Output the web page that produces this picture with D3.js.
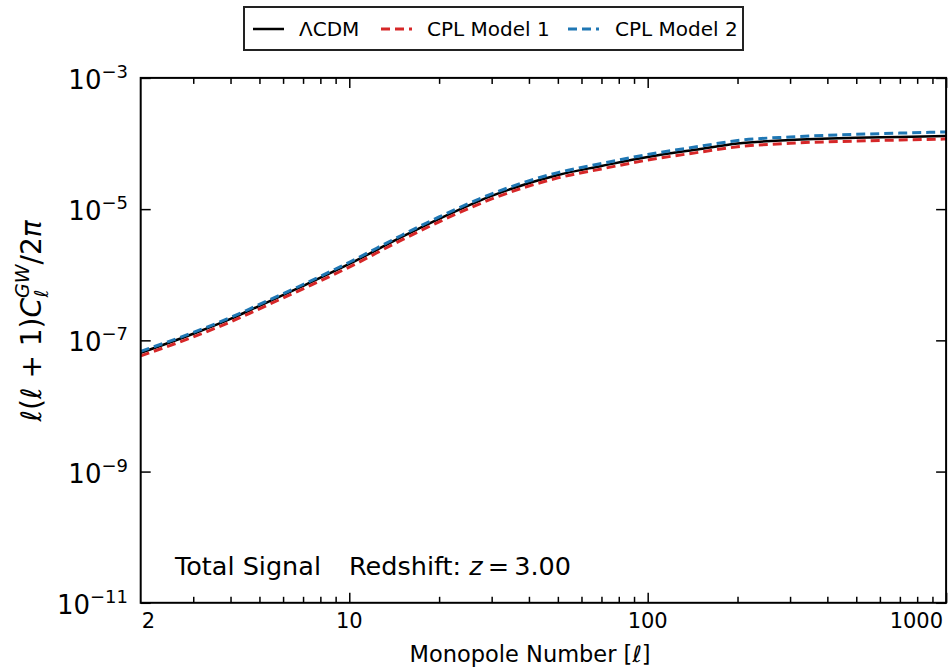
<!DOCTYPE html>
<html>
<head>
<meta charset="utf-8">
<script src="https://cdn.jsdelivr.net/npm/d3@7"></script>
<style>
  body { margin: 0; background: #fff; }
  text { font-family: "DejaVu Sans", sans-serif; fill: #000; }
</style>
</head>
<body>
<script>
// multipole numbers and the three spectra
var ells = [2, 3, 4, 5, 7, 10, 15, 20, 30, 50, 70, 100, 150, 200, 300, 500, 700, 1000];
var lcdm = [6.45e-8, 1.26e-7, 2.12e-7, 3.36e-7, 6.76e-7, 1.46e-6, 3.77e-6, 7.10e-6, 1.59e-5,
            3.32e-5, 4.55e-5, 6.24e-5, 8.26e-5, 1.00e-4, 1.13e-4, 1.22e-4, 1.26e-4, 1.30e-4];
var cpl1 = [5.8e-8, 1.13e-7, 1.91e-7, 3.03e-7, 6.1e-7, 1.31e-6, 3.4e-6, 6.4e-6, 1.43e-5,
            2.99e-5, 4.1e-5, 5.6e-5, 7.4e-5, 8.9e-5, 1.01e-4, 1.09e-4, 1.13e-4, 1.17e-4];
var cpl2 = [6.8e-8, 1.32e-7, 2.23e-7, 3.53e-7, 7.1e-7, 1.55e-6, 4.0e-6, 7.6e-6, 1.71e-5,
            3.6e-5, 4.95e-5, 6.8e-5, 9.1e-5, 1.11e-4, 1.26e-4, 1.38e-4, 1.44e-4, 1.50e-4];

var xMajor = [2, 10, 100, 1000];
var xMinor = [3, 4, 5, 6, 7, 8, 9, 20, 30, 40, 50, 60, 70, 80, 90,
              200, 300, 400, 500, 600, 700, 800, 900];
var yExps = [-3, -5, -7, -9, -11];

var width = 949, height = 668;
var pL = 140.7, pR = 946.1, pT = 77.9, pB = 602.8;

var svg = d3.select("body").append("svg")
    .attr("width", width)
    .attr("height", height);

var x = d3.scaleLog().domain([2, 1000]).range([pL, pR]);
var y = d3.scaleLog().domain([1e-11, 1e-3]).range([pB, pT]);

svg.append("clipPath").attr("id", "clip")
  .append("rect")
    .attr("x", pL).attr("y", pT)
    .attr("width", pR - pL).attr("height", pB - pT);

// curves
var series = [
  {vals: lcdm, color: "#000", dash: null, w: 2.5},
  {vals: cpl1, color: "#d62728", dash: "9,5", w: 3},
  {vals: cpl2, color: "#1f77b4", dash: "9,5", w: 3}
];

var line = d3.line()
    .x(function(d) { return x(d[0]); })
    .y(function(d) { return y(d[1]); })
    .curve(d3.curveMonotoneX);

svg.append("g").attr("clip-path", "url(#clip)")
  .selectAll("path")
  .data(series)
  .enter().append("path")
    .attr("fill", "none")
    .attr("stroke", function(d) { return d.color; })
    .attr("stroke-width", function(d) { return d.w; })
    .attr("stroke-dasharray", function(d) { return d.dash; })
    .attr("d", function(d) {
      return line(ells.map(function(l, i) { return [l, d.vals[i]]; }));
    });

// ticks, pointing inward on all four sides
function ticks(g, axis) {
  g.call(axis);
  g.select(".domain").remove();
  g.selectAll("text").remove();
  g.selectAll("line").attr("stroke", "#000").attr("stroke-width", 1.5);
}

svg.append("g").attr("transform", "translate(0," + pB + ")")
  .call(ticks, d3.axisBottom(x).tickValues(xMajor.slice(1)).tickSize(-10));
svg.append("g").attr("transform", "translate(0," + pB + ")")
  .call(ticks, d3.axisBottom(x).tickValues(xMinor).tickSize(-6));
svg.append("g").attr("transform", "translate(0," + pT + ")")
  .call(ticks, d3.axisTop(x).tickValues(xMajor.slice(1)).tickSize(-10));
svg.append("g").attr("transform", "translate(0," + pT + ")")
  .call(ticks, d3.axisTop(x).tickValues(xMinor).tickSize(-6));

var yTicks = yExps.map(function(e) { return Math.pow(10, e); });
svg.append("g").attr("transform", "translate(" + pL + ",0)")
  .call(ticks, d3.axisLeft(y).tickValues(yTicks).tickSize(-10));
svg.append("g").attr("transform", "translate(" + pR + ",0)")
  .call(ticks, d3.axisRight(y).tickValues(yTicks).tickSize(-10));

// frame
svg.append("rect")
    .attr("x", pL).attr("y", pT)
    .attr("width", pR - pL).attr("height", pB - pT)
    .attr("fill", "none")
    .attr("stroke", "#000")
    .attr("stroke-width", 2);

// x tick labels
svg.selectAll(".xlab")
  .data(xMajor)
  .enter().append("text")
    .attr("class", "xlab")
    .attr("x", function(d, i) {
      if (i === 0) return x(d) + 1;
      if (i === xMajor.length - 1) return x(d) - 3;
      return x(d);
    })
    .attr("y", 628)
    .attr("font-size", 21)
    .attr("text-anchor", function(d, i) {
      return i === 0 ? "start" : (i === xMajor.length - 1 ? "end" : "middle");
    })
    .text(function(d) { return d; });

// y tick labels as 10^e
var ylab = svg.selectAll(".ylab")
  .data(yExps)
  .enter().append("text")
    .attr("class", "ylab")
    .attr("x", 128)
    .attr("y", function(d) { return y(Math.pow(10, d)) + 11; })
    .attr("text-anchor", "end")
    .attr("font-size", 26);
ylab.append("tspan").text("10");
ylab.append("tspan")
    .attr("font-size", 18)
    .attr("dy", -11)
    .text(function(d) { return "\u2212" + (-d); });

// axis labels
svg.append("text")
    .attr("x", 530).attr("y", 662)
    .attr("text-anchor", "middle")
    .attr("font-size", 22.5)
    .html("Monopole Number [<tspan font-style='italic'>\u2113</tspan>]");

var yl = svg.append("text")
    .attr("transform", "translate(41,321) rotate(-90)")
    .attr("text-anchor", "middle")
    .attr("font-size", 28);
yl.append("tspan").attr("font-style", "italic").text("\u2113");
yl.append("tspan").text("(");
yl.append("tspan").attr("font-style", "italic").text("\u2113");
yl.append("tspan").text(" + 1)");
yl.append("tspan").attr("font-style", "italic").text("C");
yl.append("tspan").attr("font-style", "italic").attr("font-size", 19).attr("dy", -12).text("GW");
yl.append("tspan").attr("font-style", "italic").attr("font-size", 19).attr("dx", -33).attr("dy", 19).text("\u2113");
yl.append("tspan").attr("dx", 25).attr("dy", -7).text("/2");
yl.append("tspan").attr("font-style", "italic").text("\u03c0");

// annotation
svg.append("text")
    .attr("x", 175).attr("y", 575)
    .attr("font-size", 25.5)
    .text("Total Signal");
svg.append("text")
    .attr("x", 349).attr("y", 575)
    .attr("font-size", 25.5)
    .html("Redshift: <tspan font-style='italic'>z</tspan>\u2009=\u20093.00");

// legend
var leg = svg.append("g");
leg.append("rect")
    .attr("x", 244).attr("y", 7)
    .attr("width", 499).attr("height", 43)
    .attr("fill", "#fff")
    .attr("stroke", "#222")
    .attr("stroke-width", 2);

var legItems = [
  {name: "\u039bCDM", s: series[0], x0: 253, tx: 299},
  {name: "CPL Model 1", s: series[1], x0: 381, tx: 427},
  {name: "CPL Model 2", s: series[2], x0: 568, tx: 615}
];
legItems.forEach(function(d) {
  leg.append("line")
      .attr("x1", d.x0).attr("x2", d.x0 + 31)
      .attr("y1", 29).attr("y2", 29)
      .attr("stroke", d.s.color)
      .attr("stroke-width", d.s.w)
      .attr("stroke-dasharray", d.s.dash);
  leg.append("text")
      .attr("x", d.tx).attr("y", 36)
      .attr("font-size", 20)
      .text(d.name);
});
</script>
</body>
</html>
